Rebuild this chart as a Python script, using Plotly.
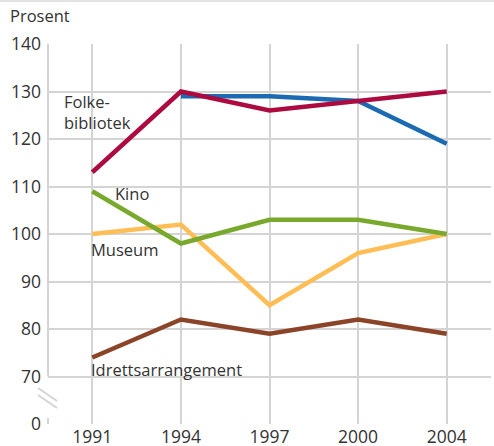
import plotly.graph_objects as go

years = ["1991", "1994", "1997", "2000", "2004"]
folkebibliotek = [113, 130, 126, 128, 130]
tros = [None, 129, 129, 128, 119]
kino = [109, 98, 103, 103, 100]
museum = [100, 102, 85, 96, 100]
idrett = [74, 82, 79, 82, 79]

ytick_vals = [60, 70, 80, 90, 100, 110, 120, 130, 140]
ytick_text = ["0", "70", "80", "90", "100", "110", "120", "130", "140"]

FONT = "Open Sans"
TXT = "#333333"
GRID = "#d4d4d4"

series = [
    ("Tros-/livssynsmøte", tros, "#1B6AB2"),
    ("Folkebibliotek", folkebibliotek, "#AD0A3F"),
    ("Museum", museum, "#FFBE55"),
    ("Kino", kino, "#79A92C"),
    ("Idrettsarrangement", idrett, "#8B4427"),
]

fig = go.Figure()
for name, vals, col in series:
    fig.add_trace(go.Scatter(x=years, y=vals, mode="lines", name=name,
                             line=dict(color=col, width=4.5),
                             connectgaps=False, showlegend=False))

W, H = 494, 446
ml, mr, mt, mb = 48, 3, 44, 22
pw = W - ml - mr

def px2paper(px):
    return (px - ml) / pw

def py2paper(py):
    return (H - mb - py) / (H - mt - mb)

def py2val(py):
    return 140 - (py - mt) * 80 / (H - mt - mb)

shapes = [
    dict(type="line", xref="paper", yref="y", x0=0, x1=0, y0=70, y1=140,
         line=dict(color=GRID, width=2)),
    dict(type="line", xref="paper", yref="y", x0=0, x1=0, y0=60, y1=py2val(418),
         line=dict(color=GRID, width=2)),
    dict(type="line", xref="paper", yref="y", x0=px2paper(38), x1=px2paper(57),
         y0=py2val(388), y1=py2val(401), line=dict(color=GRID, width=2)),
    dict(type="line", xref="paper", yref="y", x0=px2paper(38), x1=px2paper(57),
         y0=py2val(395), y1=py2val(408), line=dict(color=GRID, width=2)),
    dict(type="line", xref="paper", yref="paper", x0=px2paper(0), x1=px2paper(494),
         y0=py2paper(1), y1=py2paper(1), line=dict(color="#e2e2e2", width=2)),
]

def idx(px):
    return (px - (ml + pw / 10)) / (pw / 5)

ann_font = dict(family=FONT, size=16.5, color=TXT)
annotations = [
    dict(text="Prosent", xref="paper", yref="paper", x=px2paper(8), y=py2paper(16),
         xanchor="left", yanchor="middle", showarrow=False, font=ann_font),
    dict(text="Folke-<br>bibliotek", xref="x", yref="y", x=idx(62), y=py2val(112),
         xanchor="left", yanchor="middle", align="left", showarrow=False, font=ann_font),
    dict(text="Kino", xref="x", yref="y", x=idx(113), y=py2val(193),
         xanchor="left", yanchor="middle", showarrow=False, font=ann_font),
    dict(text="Museum", xref="x", yref="y", x=idx(89), y=py2val(249),
         xanchor="left", yanchor="middle", showarrow=False, font=ann_font),
    dict(text="Idrettsarrangement", xref="x", yref="y", x=idx(89), y=py2val(369),
         xanchor="left", yanchor="middle", showarrow=False, font=ann_font),
    dict(text="Tros-/livssynsmøte", xref="x", yref="y", x=idx(493), y=py2val(155),
         xanchor="right", yanchor="middle", showarrow=False, font=ann_font),
]

fig.update_layout(
    width=W, height=H,
    margin=dict(l=ml, r=mr, t=mt, b=mb, pad=0, autoexpand=False),
    paper_bgcolor="white", plot_bgcolor="white",
    font=dict(family=FONT, size=17.5, color=TXT),
    xaxis=dict(type="category", range=[-0.5, 4.5], showgrid=True, gridcolor=GRID,
               gridwidth=2, showline=False, zeroline=False, ticks="",
               tickfont=dict(size=17.5, color=TXT), ticklabelstandoff=0,
               automargin=False, fixedrange=True),
    yaxis=dict(range=[60, 140], tickvals=ytick_vals, ticktext=ytick_text,
               showgrid=True, gridcolor=GRID, gridwidth=2, zeroline=False,
               showline=False, ticks="", tickfont=dict(size=17.5, color=TXT),
               ticklabelstandoff=6, automargin=False, fixedrange=True),
    shapes=shapes,
    annotations=annotations,
    showlegend=False,
)

fig.write_html("out.html", config={"displayModeBar": False},
               post_script="document.body.style.margin='0';document.body.style.overflow='hidden';")
